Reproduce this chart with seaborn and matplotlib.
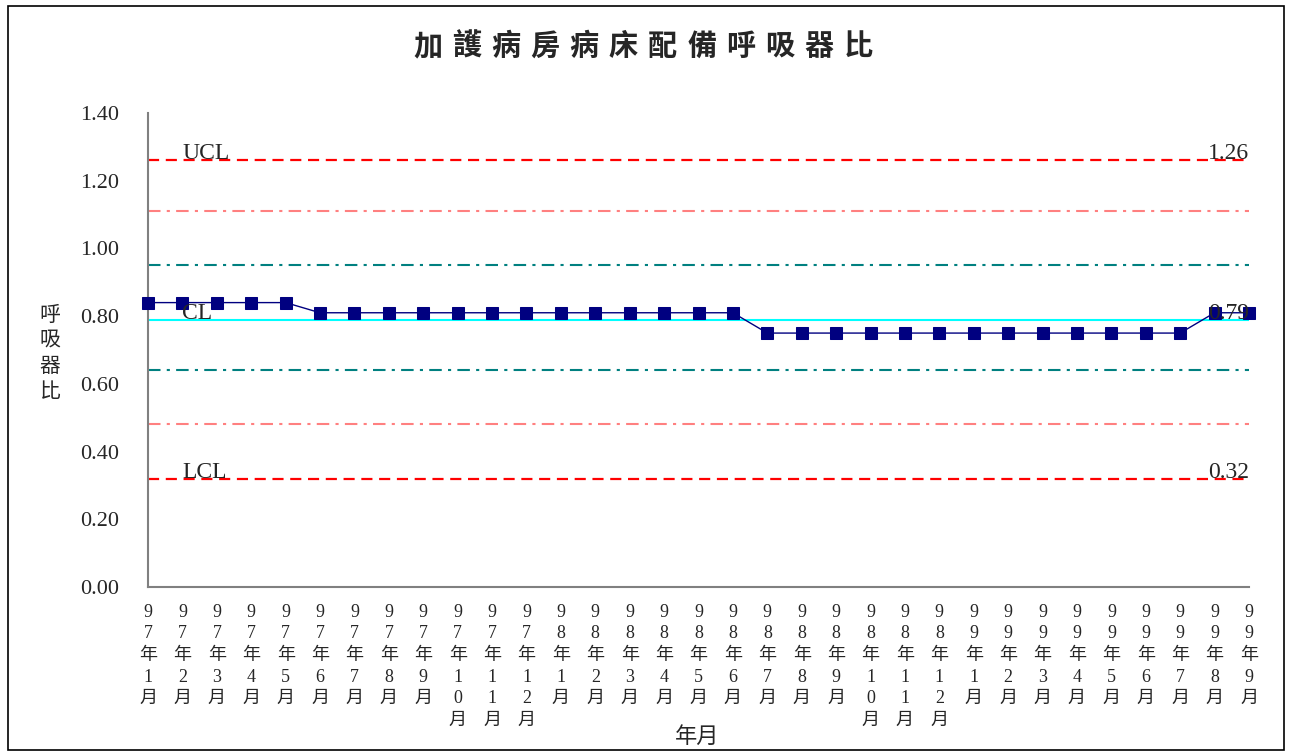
import matplotlib
matplotlib.use("Agg")
import matplotlib.pyplot as plt
from matplotlib.patches import Rectangle
import seaborn as sns
import pandas as pd

# data
months = ([f"97年{m}月" for m in range(1, 13)] +
          [f"98年{m}月" for m in range(1, 13)] +
          [f"99年{m}月" for m in range(1, 10)])
ratio = ([0.84] * 5 + [0.81] * 13 + [0.75] * 13 + [0.81] * 2)
ucl = 1.26
cl = 0.79
lcl = 0.32
sigma_lines_2 = [1.11, 0.48]
sigma_lines_1 = [0.95, 0.64]
title = "加護病房病床配備呼吸器比"

sns.set_style("white")
plt.rcParams['font.family'] = ['Liberation Serif', 'Noto Sans CJK TC', 'DejaVu Sans']
cjk = ['Noto Sans CJK TC', 'DejaVu Sans']

df = pd.DataFrame({"idx": range(len(months)), "ratio": ratio})

fig = plt.figure(figsize=(12.92, 7.53), dpi=100)
ax = fig.add_axes([148 / 1292, 1 - 587 / 753, (1249 - 148) / 1292, (587 - 113) / 753])

# control lines
ax.axhline(ucl, color="#FF0000", lw=1.6, ls=(0, (5, 3)), zorder=1)
ax.axhline(lcl, color="#FF0000", lw=1.6, ls=(0, (5, 3)), zorder=1)
ax.axhline(cl, color="#00FFFF", lw=1.5, zorder=1)
for v in sigma_lines_2:
    ax.axhline(v, color="#FF8080", lw=1.5, ls=(0, (6, 3, 1.5, 3)), zorder=1)
for v in sigma_lines_1:
    ax.axhline(v, color="#008080", lw=1.5, ls=(0, (6, 3, 1.5, 3)), zorder=1)

sns.lineplot(data=df, x="idx", y="ratio", ax=ax, color="#000080", lw=1,
             marker="s", markersize=9, markeredgecolor="#000080",
             clip_on=False, zorder=3)

ax.set_xlim(0, len(months) - 1)
ax.set_ylim(0, 1.4)
ax.set_yticks([0, 0.2, 0.4, 0.6, 0.8, 1.0, 1.2, 1.4])
ax.set_yticklabels([f"{v:.2f}" for v in ax.get_yticks()], fontsize=16)
ax.set_xticks(range(len(months)))
ax.set_xticklabels(["\n".join(m) for m in months], fontsize=13, linespacing=1.36)
ax.tick_params(axis="y", direction="in", length=8, pad=21, color="#808080")
ax.tick_params(axis="x", direction="in", length=5, pad=12, color="#808080")

for s in ["top", "right"]:
    ax.spines[s].set_visible(False)
for s in ["left", "bottom"]:
    ax.spines[s].set_color("#808080")
    ax.spines[s].set_linewidth(1.5)

ax.set_xlabel("")
ax.set_ylabel("")

# line labels
for v, name in [(ucl, "UCL"), (cl, "CL"), (lcl, "LCL")]:
    ax.text(1, v + 0.003, name, fontsize=17, va="baseline", ha="left")
    ax.text(len(months) - 1, v + 0.003, f"{v:.2f}", fontsize=17,
            va="baseline", ha="right")

# title, spaced out like the original
x0, x1 = 408 / 1292, 878 / 1292
pitch = (x1 - x0) / len(title)
for i, ch in enumerate(title):
    fig.text(x0 + pitch * (i + 0.5), 1 - 46 / 753, ch, fontsize=21,
             fontweight="bold", ha="center", va="center", family=cjk)

fig.text(50 / 1292, 1 - 353 / 753, "呼\n吸\n器\n比", fontsize=15, ha="center",
         va="center", linespacing=1.18, family=cjk)
fig.text(697 / 1292, 1 - 736 / 753, "年月", fontsize=16, ha="center", va="center",
         family=cjk)

fig.patches.append(Rectangle((8 / 1292, 3 / 753), 1276 / 1292, 744 / 753,
                             transform=fig.transFigure, fill=False,
                             edgecolor="black", lw=1.2))

fig.savefig("out.png", dpi=100)
